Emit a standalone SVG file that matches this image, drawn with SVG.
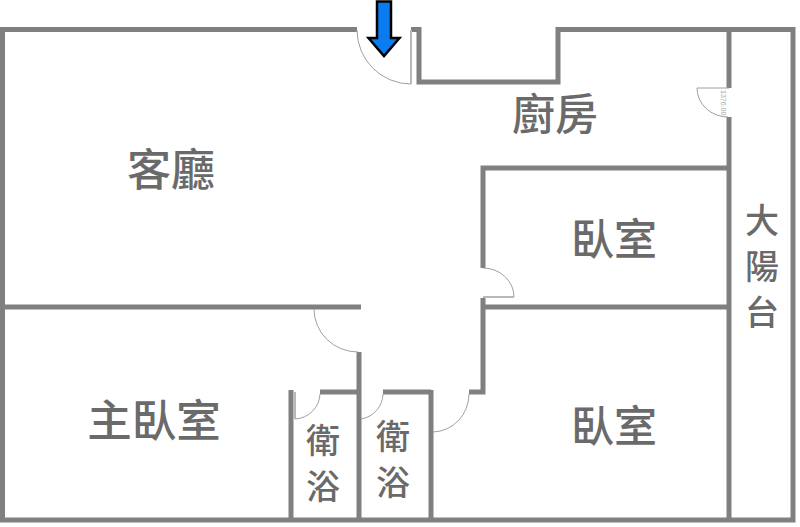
<svg xmlns="http://www.w3.org/2000/svg" width="800" height="527" viewBox="0 0 800 527">
<style>
.wall{fill:none;stroke:#808080;stroke-width:5;stroke-linecap:butt;stroke-linejoin:miter}
.door{fill:none;stroke:#a0a0a0;stroke-width:1}
.leaf{fill:none;stroke:#b8b8b8;stroke-width:2}
.lb{font-family:"Noto Sans CJK TC","Noto Sans",sans-serif;fill:#6a6a6a;text-anchor:middle;font-weight:500}
</style>
<rect width="800" height="527" fill="#fff"/>
<g id="walls">
<path class="wall" d="M357 29.500H2.500V520H793V29.500H558V82H419V29.500H411"/>
<path class="wall" d="M729 29.500V88M729 117V520"/>
<path class="wall" d="M729 168H483V268M483 298V392H469M483 307H729"/>
<path class="wall" d="M0 307H361M359 352V520M320 392H359M291 390V520M383 392H431M431 390V520"/>
</g>
<g id="doors">
<path class="door" d="M357 30A54 54 0 0 0 411 84"/>
<path class="leaf" d="M411 30V84"/>
<path class="door" d="M697 88H729M697 88A31 29 0 0 0 728 117"/>
<text x="0" y="0" transform="translate(721 90) rotate(90)" font-family="Liberation Sans,sans-serif" font-size="7" fill="#aaa">1376.00</text>
<path class="door" d="M483 268A31 29 0 0 1 514 297"/>
<path class="leaf" d="M483 297H514"/>
<path class="door" d="M314 309A44 43 0 0 0 358 352"/>
<path class="door" d="M320 394A26 26 0 0 1 295 419"/>
<path class="leaf" d="M295 392V419"/>
<path class="door" d="M383 394A26 26 0 0 1 361 419"/>
<path class="door" d="M469 394A37 38 0 0 1 433 432"/>
</g>
<g id="entry-arrow">
<path d="M377 1.500H391V38H399.500L384 56L368.500 38H377Z" fill="#0a7cf0" stroke="#000" stroke-width="2.500" stroke-linejoin="miter"/>
</g>
<g id="living"><text class="lb" x="171" y="186" font-size="44">客廳</text></g>
<g id="kitchen"><text class="lb" x="555" y="130" font-size="43">廚房</text></g>
<g id="bedroom-1"><text class="lb" x="614" y="255" font-size="43">臥室</text></g>
<g id="bedroom-2"><text class="lb" x="614" y="442" font-size="43">臥室</text></g>
<g id="master"><text class="lb" x="154" y="437" font-size="44.500">主臥室</text></g>
<g id="bath-1"><text class="lb" x="323" y="453" font-size="34">衛</text><text class="lb" x="323" y="499" font-size="34">浴</text></g>
<g id="bath-2"><text class="lb" x="393" y="449" font-size="34">衛</text><text class="lb" x="393" y="495" font-size="34">浴</text></g>
<g id="balcony"><text class="lb" x="762" y="233" font-size="34">大</text><text class="lb" x="762" y="279" font-size="34">陽</text><text class="lb" x="762" y="325" font-size="34">台</text></g>
</svg>
